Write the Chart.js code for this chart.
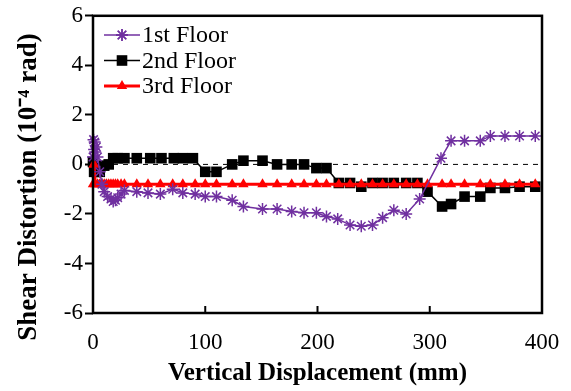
<!DOCTYPE html>
<html lang="en">
<head>
  <meta charset="UTF-8">
  <title>Shear Distortion</title>
  <script src="https://cdn.jsdelivr.net/npm/chart.js"></script>
  <style>
    body { margin: 0; background: #fff; }
    canvas { display: block; }
  </style>
</head>
<body>
  <canvas id="chart" width="571" height="391"></canvas>

  <script>
    // values
    const xTicks = [0, 100, 200, 300, 400];
    const yTicks = [-6, -4, -2, 0, 2, 4, 6];
    const seriesNames = ['1st Floor', '2nd Floor', '3rd Floor'];
    const yTitle = 'Shear Distortion (10\u207B\u2074 rad)';

    const floor1X = [0, 0.5, 1, 1.5, 2, 3, 4, 6, 8, 10, 13, 16, 18, 20, 22, 25, 28, 39, 49, 60,
      71, 80, 91, 100, 110, 124, 134, 151, 164, 177, 188, 199, 208, 218, 229, 239, 249, 258, 268, 279,
      291, 310, 319, 331, 345, 354, 367, 380, 394];
    const floor1Y = [0.3, 1.0, 0.6, 0.9, 0.5, 0.7, 0.3, -0.3, -0.8, -1.1, -1.3, -1.4, -1.5, -1.45, -1.35, -1.2, -1.05, -1.1, -1.15, -1.2,
      -1.0, -1.15, -1.2, -1.3, -1.3, -1.45, -1.7, -1.8, -1.8, -1.9, -1.95, -1.95, -2.1, -2.2, -2.45, -2.5, -2.45, -2.15, -1.85, -2.0,
      -1.4, 0.25, 0.95, 0.95, 0.95, 1.15, 1.15, 1.15, 1.15];

    const floor2X = [0, 1, 3, 6, 10, 14, 18, 22, 28, 39, 51, 61, 72, 80, 89, 100, 110, 124, 134, 151,
      164, 177, 188, 199, 208, 219, 229, 239, 249, 258, 268, 279, 289, 298, 311, 319, 331, 345, 354, 367,
      380, 394];
    const floor2Y = [0.1, -0.3, -0.3, -0.3, -0.05, 0.0, 0.25, 0.25, 0.25, 0.25, 0.25, 0.25, 0.25, 0.25, 0.25, -0.3, -0.3, 0.0, 0.15, 0.15,
      0.0, 0.0, 0.0, -0.15, -0.15, -0.75, -0.75, -0.9, -0.75, -0.75, -0.75, -0.75, -0.75, -1.1, -1.7, -1.6, -1.3, -1.3, -0.95, -0.95,
      -0.9, -0.9];

    const floor3X = [0, 0.5, 1, 2, 4, 6, 8, 10, 12, 14, 16, 18, 20, 22, 25, 28, 39, 49, 60, 71,
      80, 91, 100, 110, 124, 134, 151, 164, 177, 188, 199, 208, 219, 229, 239, 249, 258, 268, 279, 289,
      298, 311, 319, 331, 345, 354, 367, 380, 394];
    const floor3Y = [-0.8, 0.0, 0.0, -0.8, -0.8, -0.8, -0.8, -0.8, -0.8, -0.8, -0.8, -0.8, -0.8, -0.8, -0.8, -0.8, -0.8, -0.8, -0.8, -0.8,
      -0.8, -0.8, -0.8, -0.8, -0.8, -0.8, -0.8, -0.8, -0.8, -0.8, -0.8, -0.8, -0.8, -0.8, -0.8, -0.8, -0.8, -0.8, -0.8, -0.8,
      -0.8, -0.8, -0.8, -0.8, -0.8, -0.8, -0.8, -0.8, -0.8];

    const serif = "'Liberation Serif', 'Times New Roman', serif";
    const toPoints = (xs, ys) => xs.map((x, i) => ({ x: x, y: ys[i] }));

    const datasets = [
      {
        label: seriesNames[0],
        data: toPoints(floor1X, floor1Y),
        borderColor: '#7030a0',
        backgroundColor: '#7030a0',
        borderWidth: 1.5,
        pointStyle: 'star',
        pointRadius: 6,
        pointBorderWidth: 1.5,
        order: 0
      },
      {
        label: seriesNames[1],
        data: toPoints(floor2X, floor2Y),
        borderColor: '#000',
        backgroundColor: '#000',
        borderWidth: 1.5,
        pointStyle: 'rect',
        pointRadius: 7.5,
        pointBorderWidth: 0,
        order: 2
      },
      {
        label: seriesNames[2],
        data: toPoints(floor3X, floor3Y),
        borderColor: '#ff0000',
        backgroundColor: '#ff0000',
        borderWidth: 3,
        pointStyle: 'triangle',
        pointRadius: 6,
        pointBorderWidth: 0,
        order: 1
      }
    ];

    // frame, dashed zero line, inward x ticks, y title and the in-plot legend
    const decor = {
      id: 'decor',
      beforeDatasetsDraw(chart) {
        const { ctx, chartArea: a, scales: { y } } = chart;
        const y0 = y.getPixelForValue(0);
        ctx.save();
        ctx.strokeStyle = '#000';
        ctx.lineWidth = 1;
        ctx.setLineDash([5, 5]);
        ctx.beginPath();
        ctx.moveTo(a.left, y0);
        ctx.lineTo(a.right, y0);
        ctx.stroke();
        ctx.restore();
      },
      afterDraw(chart) {
        const { ctx, chartArea: a, scales: { x } } = chart;
        ctx.save();
        ctx.strokeStyle = '#000';
        ctx.lineWidth = 2.5;
        ctx.strokeRect(a.left, a.top, a.right - a.left, a.bottom - a.top);

        ctx.lineWidth = 2;
        xTicks.forEach(v => {
          const px = x.getPixelForValue(v);
          ctx.beginPath();
          ctx.moveTo(px, a.bottom);
          ctx.lineTo(px, a.bottom - 7);
          ctx.stroke();
        });

        // y title sits a bit below the axis centre in the original
        ctx.save();
        ctx.translate(29, 187);
        ctx.rotate(-Math.PI / 2);
        ctx.font = 'bold 27px ' + serif;
        ctx.textAlign = 'center';
        ctx.textBaseline = 'middle';
        ctx.fillStyle = '#000';
        ctx.fillText(yTitle, 0, 0);
        ctx.restore();

        ctx.font = '24px ' + serif;
        ctx.textBaseline = 'middle';
        chart.data.datasets.forEach((ds, i) => {
          const ly = 35 + i * 25.5;
          ctx.strokeStyle = ds.borderColor;
          ctx.lineWidth = ds.borderWidth;
          ctx.beginPath();
          ctx.moveTo(104, ly);
          ctx.lineTo(140, ly);
          ctx.stroke();
          ctx.fillStyle = ds.backgroundColor;
          Chart.helpers.drawPoint(ctx, {
            pointStyle: ds.pointStyle,
            radius: ds.pointRadius,
            borderWidth: ds.pointBorderWidth,
            rotation: 0
          }, 122, ly);
          if (ds.pointBorderWidth) ctx.stroke();
          ctx.fillStyle = '#000';
          ctx.fillText(ds.label, 142, ly + 1);
        });
        ctx.restore();
      }
    };

    new Chart(document.getElementById('chart'), {
      type: 'line',
      data: { datasets: datasets },
      plugins: [decor],
      options: {
        responsive: false,
        devicePixelRatio: 1,
        animation: false,
        clip: false,
        layout: { padding: { left: 0, top: 15, right: 29, bottom: 0 } },
        plugins: { legend: { display: false }, tooltip: { enabled: false } },
        scales: {
          x: {
            type: 'linear',
            min: 0,
            max: 400,
            afterBuildTicks: s => { s.ticks = xTicks.map(v => ({ value: v })); },
            afterFit: s => { s.height = 78; },
            border: { display: false },
            grid: { display: false },
            ticks: { color: '#000', padding: 8, font: { family: serif, size: 23 } },
            title: {
              display: true,
              text: 'Vertical Displacement (mm)',
              color: '#000',
              padding: { top: 0, bottom: 2 },
              font: { family: serif, size: 25, weight: 'bold' }
            }
          },
          y: {
            min: -6,
            max: 6,
            afterBuildTicks: s => { s.ticks = yTicks.map(v => ({ value: v })); },
            afterFit: s => { s.width = 93; },
            border: { display: false },
            grid: { drawOnChartArea: false, drawTicks: true, tickLength: 8, tickWidth: 2, tickColor: '#000', color: '#000' },
            ticks: { color: '#000', padding: 2, font: { family: serif, size: 23 } },
            title: { display: false }
          }
        }
      }
    });
  </script>
</body>
</html>
